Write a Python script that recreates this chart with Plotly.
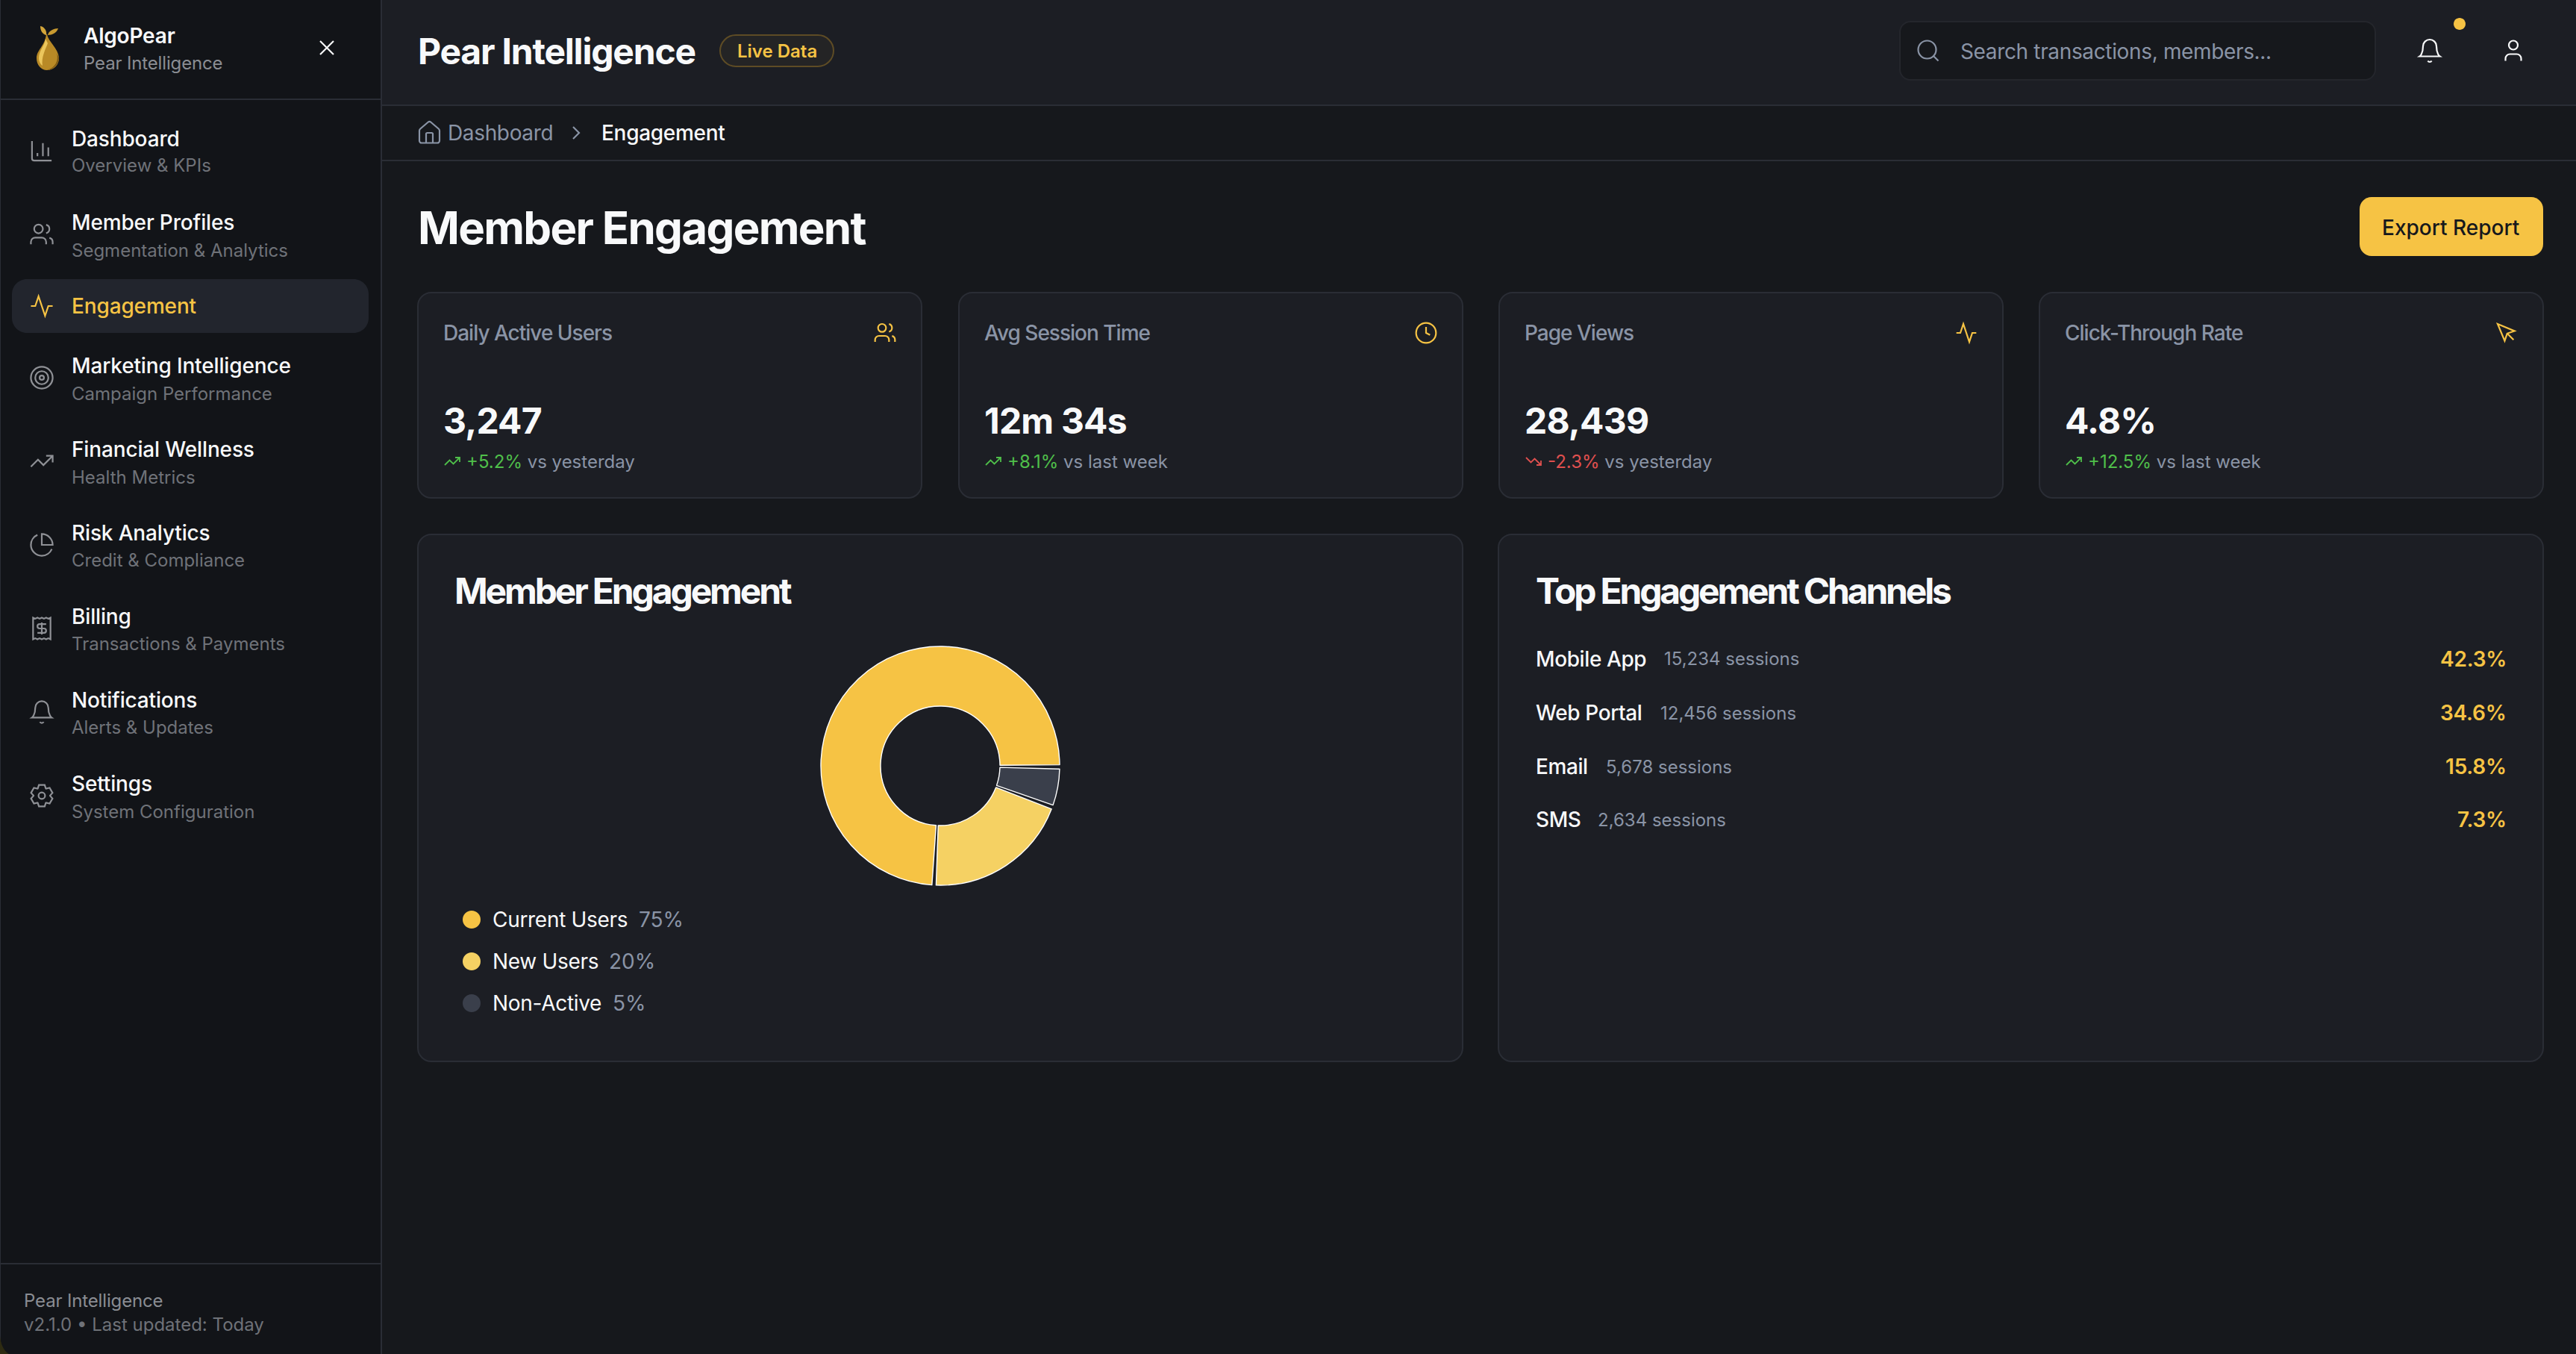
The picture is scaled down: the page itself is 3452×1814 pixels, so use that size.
import math
import re

import plotly.graph_objects as go

W = 3452
H = 1814

# chart data
segment_labels = ["Current Users", "New Users", "Non-Active"]
segment_values = [75, 20, 5]
channel_names = ["Mobile App", "Web Portal", "Email", "SMS"]
channel_sessions = ["15,234 sessions", "12,456 sessions", "5,678 sessions", "2,634 sessions"]
channel_shares = ["42.3%", "34.6%", "15.8%", "7.3%"]

# kpi cards
kpi_labels = ["Daily Active Users", "Avg Session Time", "Page Views", "Click-Through Rate"]
kpi_values = ["3,247", "12m 34s", "28,439", "4.8%"]
kpi_deltas = ["+5.2%", "+8.1%", "-2.3%", "+12.5%"]
kpi_compare = ["vs yesterday", "vs last week", "vs yesterday", "vs last week"]

# sidebar
nav_titles = ["Dashboard", "Member Profiles", "Engagement", "Marketing Intelligence",
              "Financial Wellness", "Risk Analytics", "Billing", "Notifications", "Settings"]
nav_subtitles = ["Overview & KPIs", "Segmentation & Analytics", "", "Campaign Performance",
                 "Health Metrics", "Credit & Compliance", "Transactions & Payments",
                 "Alerts & Updates", "System Configuration"]

# colours
GOLD = "#F6C344"
GOLD_LIGHT = "#F5D163"
SLATE = "#3A3F4B"
SIDEBAR_BG = "#121418"
MAIN_BG = "#16181C"
CARD_BG = "#1C1E24"
BORDER = "#2A2D35"
WHITE = "#F8F9FA"
MUTED = "#8A94A6"
SIDE_MUTED = "#6F7278"
GREEN = "#4FBF4A"
RED = "#E0504F"

shapes = []
annotations = []


def px(x):
    return x / W


def py(y):
    return 1 - y / H


def to_paper(path, fx, fy):
    # absolute svg path -> paper coordinates
    out = []
    for cmd, args in re.findall(r"([MLHVCSQTZ])([^MLHVCSQTZ]*)", path):
        nums = [float(n) for n in re.findall(r"-?\d*\.?\d+", args)]
        if cmd == "H":
            vals = [f"{px(fx(n)):.6f}" for n in nums]
        elif cmd == "V":
            vals = [f"{py(fy(n)):.6f}" for n in nums]
        else:
            vals = []
            for i in range(0, len(nums), 2):
                vals.append(f"{px(fx(nums[i])):.6f},{py(fy(nums[i + 1])):.6f}")
        out.append(cmd + " ".join(vals))
    return "".join(out)


def add_path(path, fill=None, line=None, width=0):
    shapes.append(dict(type="path", xref="paper", yref="paper", layer="below",
                       path=to_paper(path, lambda v: v, lambda v: v),
                       fillcolor=fill or "rgba(0,0,0,0)",
                       line=dict(color=line or "rgba(0,0,0,0)", width=width)))


def add_rect(x0, y0, x1, y1, fill):
    shapes.append(dict(type="rect", xref="paper", yref="paper", layer="below", x0=px(x0), x1=px(x1),
                       y0=py(y0), y1=py(y1), fillcolor=fill, line=dict(width=0)))


def add_round_rect(x0, y0, x1, y1, r, fill, line=None, width=0):
    k = r * 0.45
    path = (f"M{x0 + r} {y0}L{x1 - r} {y0}C{x1 - k} {y0} {x1} {y0 + k} {x1} {y0 + r}"
            f"L{x1} {y1 - r}C{x1} {y1 - k} {x1 - k} {y1} {x1 - r} {y1}"
            f"L{x0 + r} {y1}C{x0 + k} {y1} {x0} {y1 - k} {x0} {y1 - r}"
            f"L{x0} {y0 + r}C{x0} {y0 + k} {x0 + k} {y0} {x0 + r} {y0}Z")
    add_path(path, fill, line, width)


def circle(cx, cy, r):
    k = r * 0.5523
    return (f"M{cx + r} {cy}C{cx + r} {cy + k} {cx + k} {cy + r} {cx} {cy + r}"
            f"C{cx - k} {cy + r} {cx - r} {cy + k} {cx - r} {cy}"
            f"C{cx - r} {cy - k} {cx - k} {cy - r} {cx} {cy - r}"
            f"C{cx + k} {cy - r} {cx + r} {cy - k} {cx + r} {cy}Z")


def gear():
    pts = []
    for i in range(6):
        a = math.radians(60 * i - 90)
        for da, rad in [(-29, 7.6), (-15, 10.2), (15, 10.2), (29, 7.6)]:
            t = a + math.radians(da)
            pts.append(f"{12 + rad * math.cos(t):.2f} {12 + rad * math.sin(t):.2f}")
    return "M" + "L".join(pts) + "Z" + circle(12, 12, 3)


ICONS = {
    "chart": "M3 3V19C3 20.1 3.9 21 5 21H21M18 17V9M13 17V5M8 17V14",
    "users": "M16 21V19C16 16.8 14.2 15 12 15H6C3.8 15 2 16.8 2 19V21" + circle(9, 7, 4)
             + "M22 21V19C22 17.2 20.8 15.6 19 15.13M16 3.13C17.8 3.6 19 5.2 19 7C19 8.8 17.8 10.4 16 10.87",
    "activity": "M22 12H18L15 21L9 3L6 12H2",
    "target": circle(12, 12, 10) + circle(12, 12, 6) + circle(12, 12, 2),
    "trend_up": "M22 7L13.5 15.5L8.5 10.5L2 17M16 7H22V13",
    "trend_down": "M22 17L13.5 8.5L8.5 13.5L2 7M16 17H22V11",
    "pie": "M21.21 15.89C19.6 19.6 15.9 22 12 22C6.5 22 2 17.5 2 12C2 8 4.4 4.4 8 2.83"
           "M22 12C22 6.48 17.52 2 12 2V12Z",
    "receipt": "M4 2V22L6 21L8 22L10 21L12 22L14 21L16 22L18 21L20 22V2L18 3L16 2L14 3L12 2L10 3L8 2L6 3L4 2Z"
               "M16 8H10C8.9 8 8 8.9 8 10C8 11.1 8.9 12 10 12H14C15.1 12 16 12.9 16 14C16 15.1 15.1 16 14 16H8"
               "M12 17.5V6.5",
    "bell": "M6 8C6 4.7 8.7 2 12 2C15.3 2 18 4.7 18 8C18 15 21 17 21 17H3C3 17 6 15 6 8Z"
            "M10.3 21C10.6 21.6 11.3 22 12 22C12.7 22 13.4 21.6 13.7 21",
    "gear": gear(),
    "clock": circle(12, 12, 10) + "M12 6V12L16 14",
    "pointer": "M3 3L10.07 19.97L12.58 12.58L19.97 10.07L3 3ZM13 13L19 19",
    "house": "M15 21V13C15 12.4 14.6 12 14 12H10C9.4 12 9 12.4 9 13V21"
             "M3 10C3 9.4 3.3 8.9 3.7 8.5L10.7 2.5C11.4 1.9 12.6 1.9 13.3 2.5L20.3 8.5C20.7 8.9 21 9.4 21 10"
             "V19C21 20.1 20.1 21 19 21H5C3.9 21 3 20.1 3 19Z",
    "chevron": "M9 18L15 12L9 6",
    "close": "M18 6L6 18M6 6L18 18",
    "search": circle(11, 11, 8) + "M21 21L16.65 16.65",
    "user": "M19 21V19C19 16.8 17.2 15 15 15H9C6.8 15 5 16.8 5 19V21" + circle(12, 7, 4),
}


def add_icon(name, cx, cy, size, color, width=2.2):
    s = size / 24
    shapes.append(dict(type="path", xref="paper", yref="paper", layer="below",
                       path=to_paper(ICONS[name], lambda v: cx + (v - 12) * s, lambda v: cy + (v - 12) * s),
                       fillcolor="rgba(0,0,0,0)", line=dict(color=color, width=width)))


def add_text(x, y, text, size, color, weight=400, anchor="left", spacing=0):
    # annotation boxes sit about 2px in from their anchor
    if anchor == "left":
        x -= 2
    elif anchor == "right":
        x += 2
    if spacing:
        text = f'<span style="letter-spacing:{spacing}px">{text}</span>'
    annotations.append(dict(xref="paper", yref="paper", x=px(x), y=py(y), text=text,
                            showarrow=False, xanchor=anchor, yanchor="middle", borderpad=0,
                            font=dict(family="Inter", size=size, color=color, weight=weight)))


# page regions
add_rect(0, 0, W, H, MAIN_BG)
add_rect(510, 0, W, 141, CARD_BG)
add_rect(0, 0, 510, H, SIDEBAR_BG)
add_rect(510, 0, 512, H, BORDER)
add_rect(0, 0, 1, H, BORDER)
add_rect(0, 132, 510, 134, BORDER)
add_rect(0, 1692, 510, 1694, BORDER)
add_rect(512, 140, W, 142, BORDER)
add_rect(512, 214, W, 216, BORDER)
# window corner
add_path("M0 1790C1 1800 4 1809 12 1814L0 1814Z", "#2E2B12")

# logo
add_path("M63 46C65 56 78 65 79 77C79.5 87 72 94 63 94C55 94 49 87 49 78C49 67 60 62 62 46Z", "#B98A26")
add_path("M61 52C60 61 52 68 52 78C52 82 54 86 57 88C55 77 61 66 64 58Z", "#EBC65C")
add_path("M76 71C79 81 74 91 63 94C70 94 79.5 87 79 77Z", "#7E5A14")
add_path("M54 35C60 36 63 42 62 47C57 46 54 41 54 35Z", "#D3A53A")
add_path("M78 38C73 38 65 41 64 47C70 47 76 44 78 38Z", "#C89A30")

# sidebar text
add_text(113, 48, "AlgoPear", 28, WHITE, 600, spacing=-0.2)
add_text(113, 85, "Pear Intelligence", 24, "#8A8D93", spacing=-0.15)
add_icon("close", 438, 64, 36, WHITE)

add_round_rect(16, 374, 494, 446, 20, "#22252D")
nav_icons = ["chart", "users", "activity", "target", "trend_up", "pie", "receipt", "bell", "gear"]
nav_title_y = [186, 298, 410, 490, 602, 714, 826, 938, 1050]
nav_sub_y = [222, 335, 0, 527, 639, 750, 862, 974, 1087]
nav_icon_y = [202, 314, 410, 506, 618, 730, 842, 954, 1066]
for i, title in enumerate(nav_titles):
    active = title == "Engagement"
    add_text(97, nav_title_y[i], title, 28, GOLD if active else WHITE, 500, spacing=-0.15)
    if nav_subtitles[i]:
        add_text(97, nav_sub_y[i], nav_subtitles[i], 24, SIDE_MUTED)
    add_icon(nav_icons[i], 56, nav_icon_y[i], 35, GOLD if active else "#8F9196")

add_text(33, 1742, "Pear Intelligence", 24, "#8A8D93", spacing=-0.15)
add_text(33, 1774, "v2.1.0 • Last updated: Today", 24, SIDE_MUTED)

# top bar
add_text(561, 68, "Pear Intelligence", 48, WHITE, 700, spacing=-1.2)
add_round_rect(965, 47, 1117, 89, 21, "rgba(246,195,68,0.04)", "#5E4C25", 2)
add_text(1041, 68, "Live Data", 24, GOLD, 600, "center")
add_round_rect(2546, 29, 3183, 107, 14, MAIN_BG, "#24262C", 2)
add_icon("search", 2584, 68, 36, MUTED)
add_text(2628, 69, "Search transactions, members...", 28, MUTED, spacing=-0.35)
add_icon("bell", 3256, 68, 36, WHITE)
add_path(circle(3296, 32, 8), GOLD)
add_icon("user", 3368, 68, 36, WHITE)

# breadcrumb
add_icon("house", 575.5, 178, 36, MUTED)
add_text(601, 178, "Dashboard", 28, MUTED, spacing=-0.35)
add_icon("chevron", 772, 178, 32, MUTED)
add_text(807, 178, "Engagement", 28, WHITE, 500, spacing=-0.3)

# page title
add_text(561, 305, "Member Engagement", 60, WHITE, 700, spacing=-1.7)
add_round_rect(3162, 264, 3408, 343, 16, GOLD)
add_text(3284, 305, "Export Report", 28, MAIN_BG, 500, "center")

# kpi cards
card_left = [560, 1285, 2009, 2733]
card_icons = ["users", "clock", "activity", "pointer"]
for i, left in enumerate(card_left):
    add_round_rect(left, 392, left + 675, 667, 18, CARD_BG, BORDER, 2)
    add_text(left + 35, 446, kpi_labels[i], 28, MUTED, 500, spacing=-1)
    add_icon(card_icons[i], left + 626, 446, 32, GOLD)
    add_text(left + 35, 563, kpi_values[i], 48, WHITE, 700, spacing=-0.8)
    down = kpi_deltas[i].startswith("-")
    add_icon("trend_down" if down else "trend_up", left + 46, 618, 24, RED if down else GREEN, 1.8)
    color = RED if down else GREEN
    add_text(left + 66, 618, f'<span style="color:{color}">{kpi_deltas[i]}</span> {kpi_compare[i]}', 24, MUTED)

# panels
add_round_rect(560, 716, 1960, 1422, 18, CARD_BG, BORDER, 2)
add_round_rect(2008, 716, 3408, 1422, 18, CARD_BG, BORDER, 2)
add_text(610, 791, "Member Engagement", 48, WHITE, 700, spacing=-3.15)
add_text(2059, 791, "Top Engagement Channels", 48, WHITE, 700, spacing=-3.2)

# donut legend
segment_colors = [GOLD, GOLD_LIGHT, SLATE]
legend_y = [1232, 1288, 1344]
legend_value_x = [857, 817, 822]
for i, label in enumerate(segment_labels):
    add_path(circle(632, legend_y[i], 12), segment_colors[i])
    add_text(661, legend_y[i], label, 28, WHITE, spacing=-0.3)
    add_text(legend_value_x[i], legend_y[i], f"{segment_values[i]}%", 28, MUTED)

# channels list
channel_y = [883, 955, 1027, 1098]
session_x = [2231, 2226, 2153, 2142]
for i, name in enumerate(channel_names):
    add_text(2059, channel_y[i], name, 28, WHITE, 500, spacing=-0.4)
    add_text(session_x[i], channel_y[i], channel_sessions[i], 24, MUTED)
    add_text(3358, channel_y[i], channel_shares[i], 28, GOLD, 600, "right", spacing=-0.2)

# donut: a 2 degree gap after each slice, drawn as a see-through slice
gap_value = sum(segment_values) * 2 / (360 - 2 * len(segment_values))
pie_labels = []
pie_values = []
pie_colors = []
pie_lines = []
for label, value, color in zip(segment_labels, segment_values, segment_colors):
    pie_labels += [label, label + " gap"]
    pie_values += [value, gap_value]
    pie_colors += [color, "rgba(0,0,0,0)"]
    pie_lines += [1.4, 0]

cx, cy, radius = 1260, 1026, 160
fig = go.Figure(go.Pie(
    labels=pie_labels,
    values=pie_values,
    sort=False,
    direction="counterclockwise",
    rotation=184,
    hole=0.5,
    textinfo="none",
    hoverinfo="skip",
    marker=dict(colors=pie_colors, line=dict(color="#FFFFFF", width=pie_lines)),
    domain=dict(x=[px(cx - radius), px(cx + radius)], y=[py(cy + radius), py(cy - radius)]),
))

fig.update_layout(
    width=W,
    height=H,
    margin=dict(l=0, r=0, t=0, b=0),
    paper_bgcolor=MAIN_BG,
    plot_bgcolor=MAIN_BG,
    showlegend=False,
    shapes=shapes,
    annotations=annotations,
)

fig.write_html("out.html", config={"displayModeBar": False},
               post_script="document.body.style.margin='0';document.body.style.background='#16181C';")
